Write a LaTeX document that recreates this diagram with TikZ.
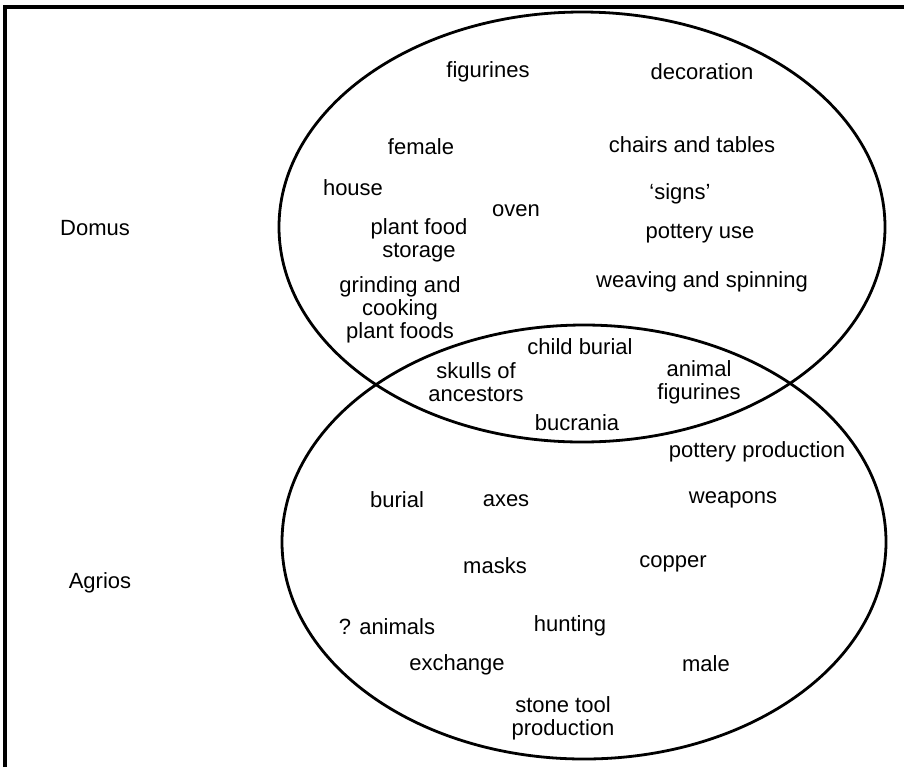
\documentclass[tikz,border=0pt]{standalone}
\usepackage{fontspec}
\setmainfont{Liberation Sans}
\usetikzlibrary{shapes.geometric}
\begin{document}
\begin{tikzpicture}[x=0.5pt,y=-0.5pt,
  lbl/.style={font=\fontsize{11}{11.5}\selectfont, align=center, inner sep=0pt},
  setshape/.style={ellipse, draw, line width=1.4pt, inner sep=0pt},
  frameline/.style={line width=2.1pt}]
\useasboundingbox (0,0) rectangle (904,767);
\coordinate (fbl) at (5,767);
\coordinate (ftl) at (5,7);
\coordinate (ftr) at (904,7);
\draw[frameline] (fbl) -- (ftl) -- (ftr);
\node[setshape, minimum width=303pt, minimum height=215pt] (domusset) at (582,227) {};
\node[setshape, minimum width=302pt, minimum height=217pt] (agriosset) at (584,542) {};
% outside labels
\node[lbl] (domus) at (95,228) {Domus};
\node[lbl] (agrios) at (100,583) {Agrios};
% domus
\node[lbl] (figurines) at (488,72) {figurines};
\node[lbl] (decoration) at (702,72) {decoration};
\node[lbl] (female) at (421,147) {female};
\node[lbl] (chairs) at (692,145) {chairs and tables};
\node[lbl] (house) at (353,188) {house};
\node[lbl] (signs) at (680,194) {`signs'};
\node[lbl] (oven) at (516,211) {oven};
\node[lbl] (plantfood) at (419,240) {plant food\\storage};
\node[lbl] (potteryuse) at (700,234) {pottery use};
\node[lbl] (weaving) at (702,282) {weaving and spinning};
\node[lbl] (grinding) at (400,310) {grinding and\\cooking\\plant foods};
% overlap
\node[lbl] (child) at (580,347) {child burial};
\node[lbl] (skulls) at (476,382) {skulls of\\ancestors};
\node[lbl] (animalfig) at (699,382) {animal\\figurines};
\node[lbl] (bucrania) at (577,423) {bucrania};
% agrios
\node[lbl] (potteryprod) at (757,452) {pottery production};
\node[lbl] (burial) at (397,500) {burial};
\node[lbl] (axes) at (506,501) {axes};
\node[lbl] (weapons) at (733,500) {weapons};
\node[lbl] (masks) at (495,566) {masks};
\node[lbl] (copper) at (673,564) {copper};
\node[lbl] (animals) at (387,627) {? animals};
\node[lbl] (hunting) at (570,626) {hunting};
\node[lbl] (exchange) at (457,665) {exchange};
\node[lbl] (male) at (706,664) {male};
\node[lbl] (stonetool) at (563,718) {stone tool\\production};
\end{tikzpicture}
\end{document}
